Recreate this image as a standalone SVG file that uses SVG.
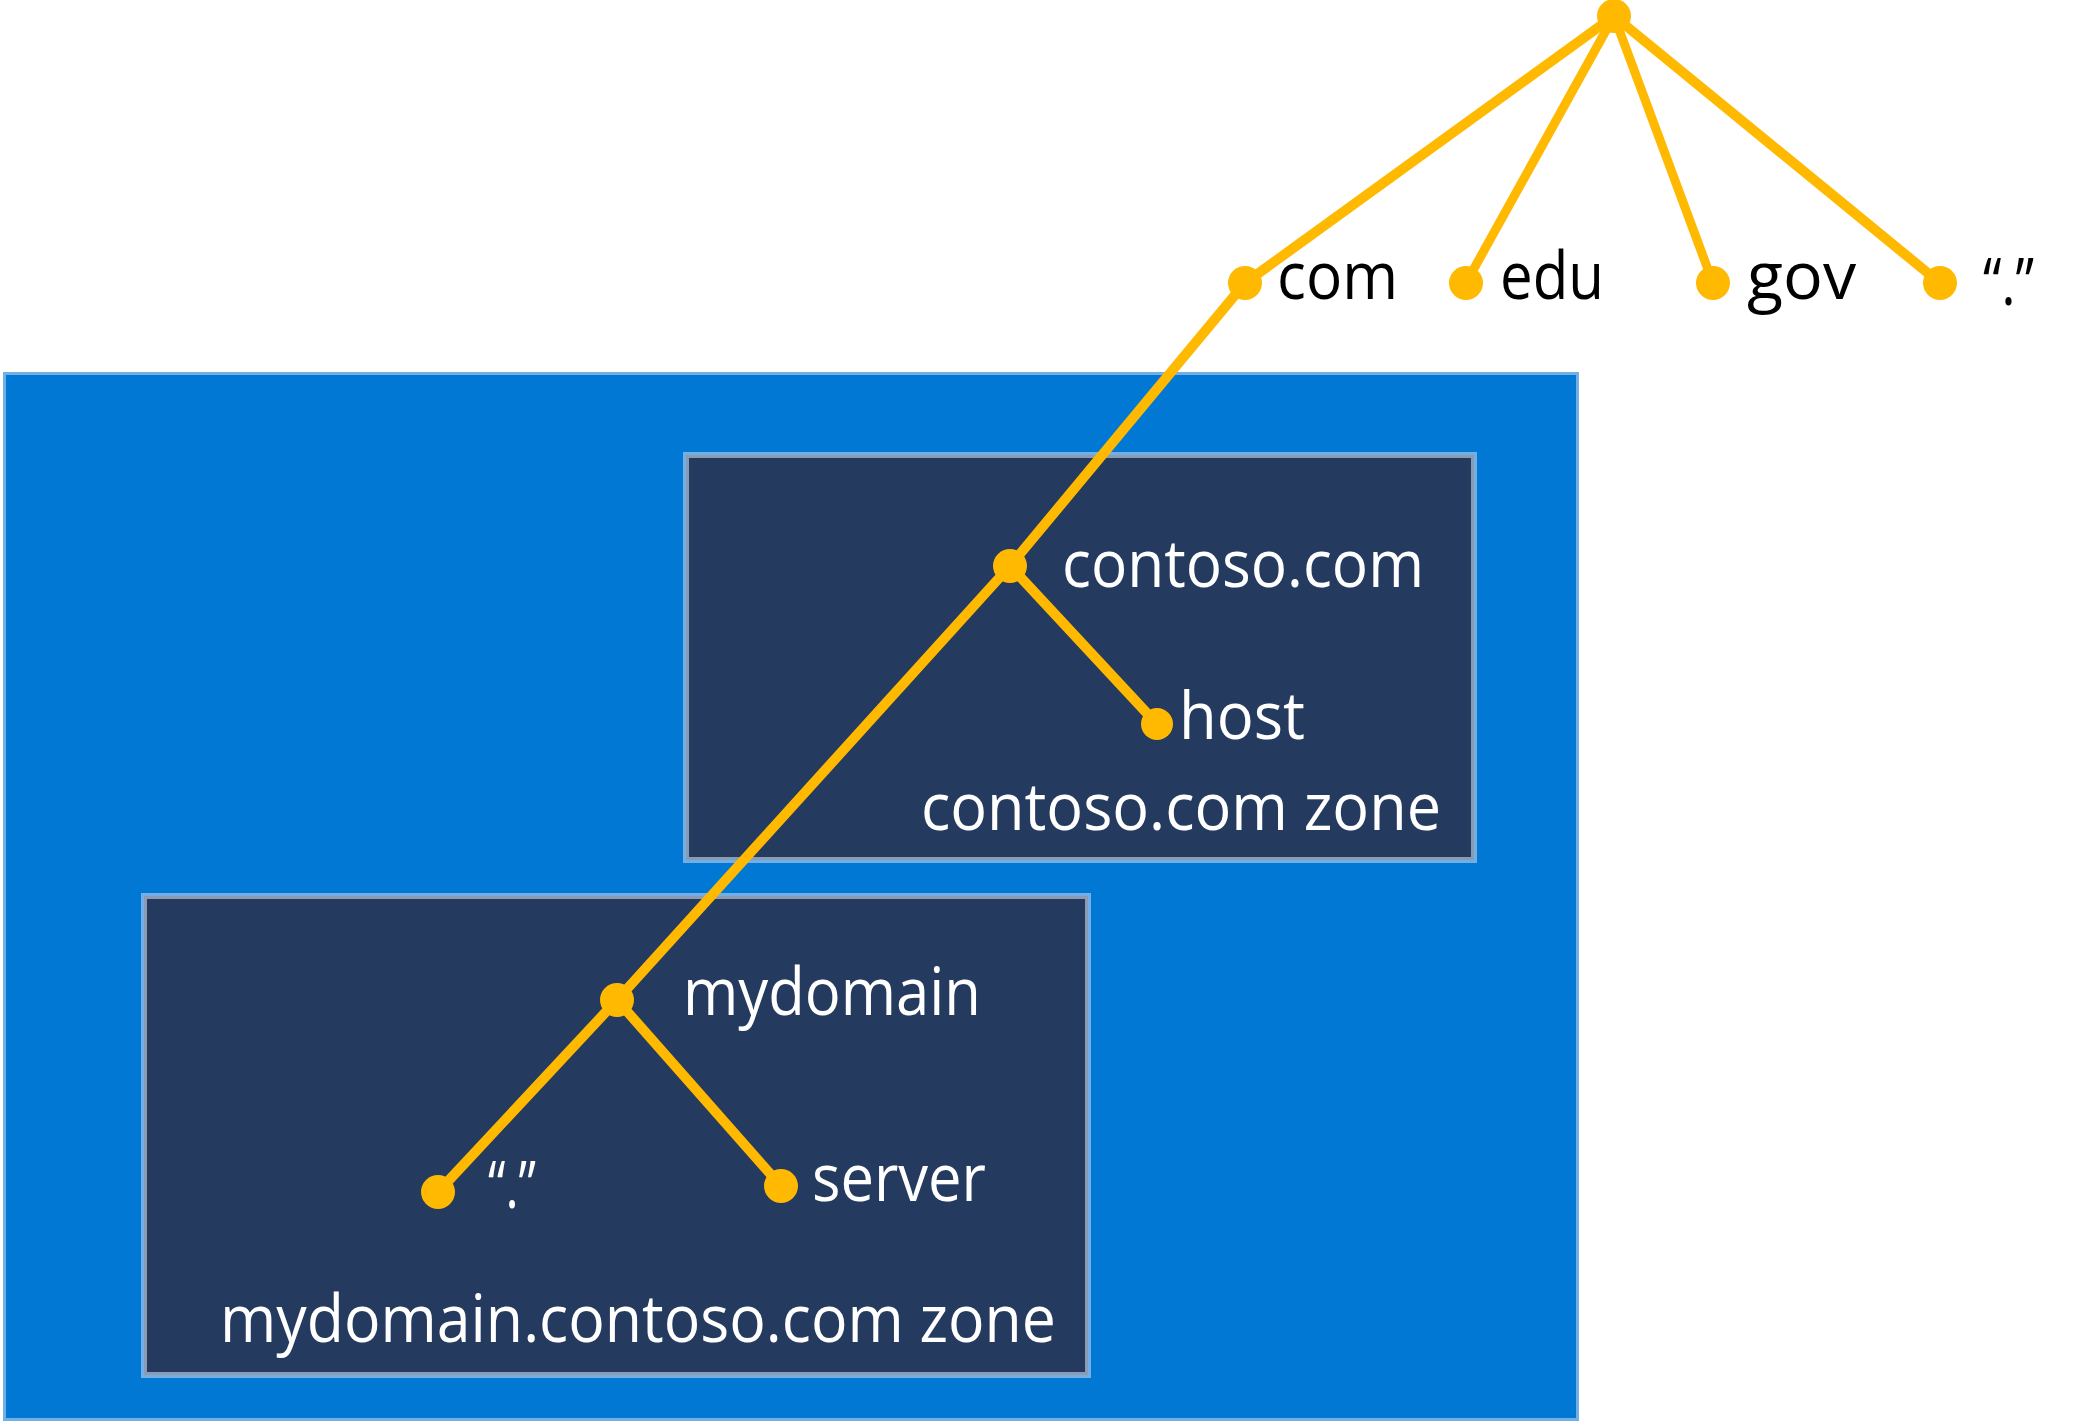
<svg xmlns="http://www.w3.org/2000/svg" width="2074" height="1423" viewBox="0 0 2074 1423">
  <style>
    .zone-outer { fill: none; stroke: #71AFE5; stroke-width: 3; }
    .zone-inner { fill: #243A5E; stroke: #8A9BB4; stroke-width: 3; }
    .edge { stroke: #FFB900; stroke-width: 10; stroke-linecap: round; fill: none; }
    .thin { stroke-width: 9; }
    .dot { fill: #FFB900; }
    .lbl { font-family: "Open Sans", "Noto Sans", "DejaVu Sans", sans-serif; font-size: 66px; }
    .dark { fill: #000000; }
    .light { fill: #FFFFFF; }
  </style>
  <rect width="2074" height="1423" fill="#FFFFFF"/>

  <g id="dns-server">
    <rect x="4.5" y="373.5" width="1573" height="1046" fill="#0078D4" stroke="#71AFE5" stroke-width="3"/>
  </g>

  <g id="contoso-zone">
    <rect class="zone-outer" x="684.5" y="453.5" width="791" height="408"/>
    <rect class="zone-inner" x="687.5" y="456.5" width="785" height="402"/>
    <text class="lbl light" x="921" y="830" textLength="520" lengthAdjust="spacingAndGlyphs">contoso.com zone</text>
  </g>

  <g id="mydomain-zone">
    <rect class="zone-outer" x="142.5" y="894.5" width="947" height="482"/>
    <rect class="zone-inner" x="145.5" y="897.5" width="941" height="476"/>
    <text class="lbl light" x="220" y="1342" textLength="836" lengthAdjust="spacingAndGlyphs">mydomain.contoso.com zone</text>
  </g>

  <g id="connectors">
    <line class="edge" x1="1614" y1="16" x2="1245" y2="283"/>
    <line class="edge thin" x1="1614" y1="16" x2="1466" y2="283"/>
    <line class="edge thin" x1="1614" y1="16" x2="1713" y2="283"/>
    <line class="edge" x1="1614" y1="16" x2="1940" y2="283"/>
    <line class="edge" x1="1245" y1="283" x2="1010" y2="566"/>
    <line class="edge" x1="1010" y1="566" x2="1157" y2="724"/>
    <line class="edge" x1="1010" y1="566" x2="617" y2="1000"/>
    <line class="edge" x1="617" y1="1000" x2="438" y2="1192"/>
    <line class="edge" x1="617" y1="1000" x2="781" y2="1186"/>
  </g>

  <g id="root">
    <circle class="dot" cx="1614" cy="16" r="17"/>
  </g>
  <g id="com">
    <circle class="dot" cx="1245" cy="283" r="17"/>
    <text class="lbl dark" x="1277" y="299" textLength="121" lengthAdjust="spacingAndGlyphs">com</text>
  </g>
  <g id="edu">
    <circle class="dot" cx="1466" cy="283" r="17"/>
    <text class="lbl dark" x="1500" y="299" textLength="104" lengthAdjust="spacingAndGlyphs">edu</text>
  </g>
  <g id="gov">
    <circle class="dot" cx="1713" cy="283" r="17"/>
    <text class="lbl dark" x="1747" y="299" textLength="109" lengthAdjust="spacingAndGlyphs">gov</text>
  </g>
  <g id="root-dot">
    <circle class="dot" cx="1940" cy="283" r="17"/>
    <text class="lbl dark" x="1983" y="305" textLength="51" lengthAdjust="spacingAndGlyphs">“.”</text>
  </g>
  <g id="contoso">
    <circle class="dot" cx="1010" cy="566" r="17"/>
    <text class="lbl light" x="1062" y="587" textLength="362" lengthAdjust="spacingAndGlyphs">contoso.com</text>
  </g>
  <g id="host">
    <circle class="dot" cx="1157" cy="724" r="16"/>
    <text class="lbl light" x="1179" y="739" textLength="126" lengthAdjust="spacingAndGlyphs">host</text>
  </g>
  <g id="mydomain">
    <circle class="dot" cx="617" cy="1000" r="17"/>
    <text class="lbl light" x="683" y="1015" textLength="298" lengthAdjust="spacingAndGlyphs">mydomain</text>
  </g>
  <g id="mydomain-dot">
    <circle class="dot" cx="438" cy="1192" r="17"/>
    <text class="lbl light" x="488" y="1208" textLength="48" lengthAdjust="spacingAndGlyphs">“.”</text>
  </g>
  <g id="server">
    <circle class="dot" cx="781" cy="1186" r="17"/>
    <text class="lbl light" x="812" y="1201" textLength="174" lengthAdjust="spacingAndGlyphs">server</text>
  </g>
</svg>
